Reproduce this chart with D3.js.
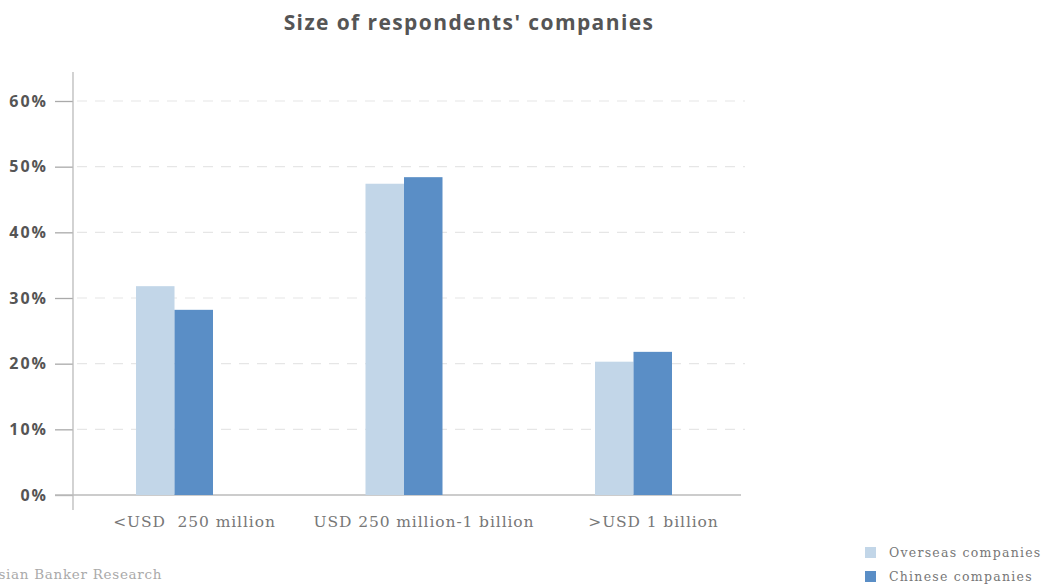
<!DOCTYPE html>
<html>
<head>
<meta charset="utf-8">
<script src="https://cdn.jsdelivr.net/npm/d3@7"></script>
<style>
  body { margin: 0; background: #fff; }
  svg { display: block; }
</style>
</head>
<body>
<div id="chart"></div>
<script>
// data
var categories = ["<USD  250 million", "USD 250 million-1 billion", ">USD 1 billion"];
var seriesNames = ["Overseas companies", "Chinese companies"];
var overseas = [31.8, 47.4, 20.3];
var chinese = [28.2, 48.4, 21.8];
var yTicks = [0, 10, 20, 30, 40, 50, 60];
var colors = ["#c2d6e8", "#5a8ec6"];

var W = 1047, H = 587;
var margin = {left: 73};
var x0 = 136, x1 = 672;          // band range for groups
var yBottom = 495, yTop = 101;   // 0% and 60%

var svg = d3.select("#chart").append("svg").attr("width", W).attr("height", H);

// scales
var x = d3.scaleBand().domain(categories).range([x0, x1]).paddingInner(0.6645).paddingOuter(0);
var xs = d3.scaleBand().domain(seriesNames).range([0, x.bandwidth()]);
var y = d3.scaleLinear().domain([0, 60]).range([yBottom, yTop]);

// title
svg.append("text").attr("x", 469).attr("y", 30)
    .attr("text-anchor", "middle")
    .style("font-family", "'Open Sans', sans-serif").style("font-weight", "bold")
    .style("font-size", "21px").style("fill", "#555").style("letter-spacing", "1.4px")
    .text("Size of respondents' companies");

// dashed grid lines
svg.append("g").selectAll("line").data(yTicks.filter(function(d) { return d > 0; })).enter()
    .append("line")
    .attr("x1", 77).attr("x2", 745)
    .attr("y1", function(d) { return y(d); }).attr("y2", function(d) { return y(d); })
    .style("stroke", "#e6e6e6").style("stroke-width", 1.2).style("stroke-dasharray", "10,8");

// y axis
var yAxis = d3.axisLeft(y).tickValues(yTicks).tickSize(18).tickPadding(7)
    .tickFormat(function(d) { return d + "%"; });
var gy = svg.append("g").attr("transform", "translate(" + margin.left + ",0)").call(yAxis);
gy.select(".domain").remove();
gy.selectAll(".tick line").style("stroke", "#aaa").style("stroke-width", 1.3);
gy.selectAll(".tick text")
    .style("font-family", "'Open Sans', sans-serif").style("font-weight", "bold")
    .style("font-size", "16px").style("fill", "#555").style("letter-spacing", "2px");

// axis lines
svg.append("line").attr("x1", margin.left).attr("x2", margin.left).attr("y1", 72).attr("y2", 510)
    .style("stroke", "#bbb").style("stroke-width", 1.3);
svg.append("line").attr("x1", 55).attr("x2", 741).attr("y1", y(0)).attr("y2", y(0))
    .style("stroke", "#bbb").style("stroke-width", 1.3);

// bars
var rows = categories.map(function(c, i) {
    return {cat: c, vals: [overseas[i], chinese[i]]};
});
var groups = svg.append("g").selectAll("g").data(rows).enter()
    .append("g").attr("transform", function(d) { return "translate(" + x(d.cat) + ",0)"; });
groups.selectAll("rect").data(function(d) { return d.vals; }).enter()
    .append("rect")
    .attr("x", function(d, i) { return xs(seriesNames[i]); })
    .attr("width", xs.bandwidth())
    .attr("y", function(d) { return y(d); })
    .attr("height", function(d) { return y(0) - y(d); })
    .style("fill", function(d, i) { return colors[i]; });

// category labels
svg.append("g").selectAll("text").data(categories).enter()
    .append("text")
    .attr("x", function(d) { return x(d) + x.bandwidth() / 2 + 20; })
    .attr("y", 527)
    .attr("text-anchor", "middle")
    .style("font-family", "'DejaVu Serif', serif").style("font-size", "15.5px")
    .style("fill", "#777").style("white-space", "pre").style("letter-spacing", "0.9px")
    .text(function(d) { return d; });

// source (cut at the left edge as in the original)
svg.append("text").attr("x", -12).attr("y", 579)
    .style("font-family", "'DejaVu Serif', serif").style("font-size", "13.5px")
    .style("fill", "#aaa").style("letter-spacing", "0.7px")
    .text("Asian Banker Research");

// legend
var legend = svg.append("g").attr("transform", "translate(865,547)");
legend.selectAll("rect").data(seriesNames).enter().append("rect")
    .attr("x", 0).attr("y", function(d, i) { return i * 24; })
    .attr("width", 11).attr("height", 11)
    .style("fill", function(d, i) { return colors[i]; });
legend.selectAll("text").data(seriesNames).enter().append("text")
    .attr("x", 24).attr("y", function(d, i) { return i * 24 + 10; })
    .style("font-family", "'DejaVu Serif', serif").style("font-size", "12.5px")
    .style("fill", "#777").style("letter-spacing", "1.25px")
    .text(function(d) { return d; });
</script>
</body>
</html>
